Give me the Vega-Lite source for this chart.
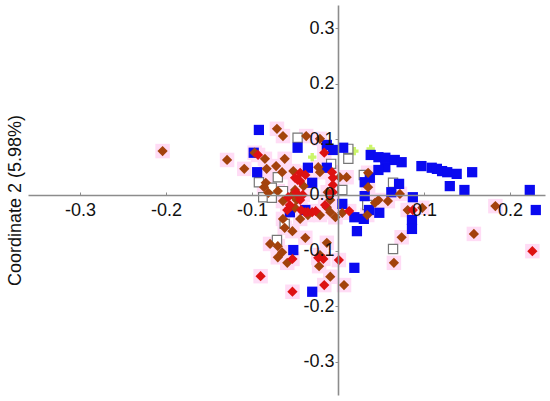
{"$schema":"https://vega.github.io/schema/vega-lite/v6.json","width":517,"height":390,"autosize":"none","padding":{"left":28,"top":5,"right":5,"bottom":6},"background":"white","config":{"view":{"stroke":null},"font":"Liberation Sans"},
"datasets":{"blue":[{"x":-0.092,"y":0.117},{"x":-0.098,"y":0.076},{"x":-0.047,"y":0.085},{"x":-0.094,"y":0.041},{"x":-0.013,"y":0.09},{"x":-0.006,"y":0.081},{"x":0.006,"y":0.085},{"x":-0.035,"y":0.049},{"x":-0.013,"y":0.049},{"x":-0.03,"y":0.022},{"x":0.038,"y":0.072},{"x":0.047,"y":0.068},{"x":0.055,"y":0.067},{"x":0.055,"y":0.05},{"x":0.047,"y":0.045},{"x":0.066,"y":0.063},{"x":0.074,"y":0.059},{"x":0.097,"y":0.052},{"x":0.109,"y":0.049},{"x":0.115,"y":0.047},{"x":0.121,"y":0.043},{"x":0.127,"y":0.041},{"x":0.138,"y":0.038},{"x":0.156,"y":0.041},{"x":0.13,"y":0.016},{"x":0.147,"y":0.009},{"x":0.223,"y":0.009},{"x":0.23,"y":-0.027},{"x":0.037,"y":0.031},{"x":0.031,"y":0.023},{"x":0.071,"y":0.02},{"x":0.062,"y":0.005},{"x":0.031,"y":-0.002},{"x":0.087,"y":-0.004},{"x":0.005,"y":-0.016},{"x":0.036,"y":-0.027},{"x":0.048,"y":-0.032},{"x":0.019,"y":-0.04},{"x":0.03,"y":-0.043},{"x":0.022,"y":-0.065},{"x":0.086,"y":-0.045},{"x":0.086,"y":-0.061},{"x":-0.052,"y":-0.099},{"x":0.019,"y":-0.131},{"x":-0.03,"y":-0.174},{"x":-0.056,"y":-0.031},{"x":-0.038,"y":-0.027}],
"open":[{"x":-0.047,"y":0.103},{"x":0.012,"y":0.083},{"x":0.012,"y":0.065},{"x":-0.008,"y":0.056},{"x":-0.07,"y":0.032},{"x":-0.092,"y":0.023},{"x":-0.087,"y":-0.004},{"x":-0.077,"y":-0.005},{"x":-0.064,"y":0.007},{"x":0.005,"y":0.009},{"x":-0.077,"y":0.013},{"x":-0.062,"y":-0.052},{"x":-0.071,"y":-0.081},{"x":0.064,"y":-0.097},{"x":0.03,"y":0.036},{"x":0.064,"y":0.022},{"x":0.034,"y":-0.018}],
"green":[{"x":-0.03,"y":0.068},{"x":0.019,"y":0.079},{"x":0.038,"y":0.083}],
"red":[{"x":-0.093,"y":0.072},{"x":-0.016,"y":0.076},{"x":-0.047,"y":0.027},{"x":-0.044,"y":0.04},{"x":-0.044,"y":0.025},{"x":-0.007,"y":0.041},{"x":-0.006,"y":0.031},{"x":-0.006,"y":0.018},{"x":-0.006,"y":0.005},{"x":-0.047,"y":0},{"x":-0.041,"y":0},{"x":-0.059,"y":-0.027},{"x":-0.038,"y":-0.031},{"x":-0.035,"y":-0.031},{"x":-0.03,"y":-0.031},{"x":-0.053,"y":-0.115},{"x":-0.017,"y":-0.115},{"x":-0.023,"y":-0.113},{"x":0.001,"y":-0.117},{"x":-0.016,"y":-0.162},{"x":-0.053,"y":-0.174},{"x":-0.09,"y":-0.146},{"x":0.226,"y":-0.101},{"x":0.013,"y":-0.029},{"x":0.087,"y":-0.027},{"x":-0.038,"y":0.036},{"x":-0.05,"y":0.031},{"x":-0.049,"y":0.005},{"x":-0.058,"y":-0.004},{"x":-0.044,"y":-0.009},{"x":-0.026,"y":-0.029},{"x":-0.015,"y":-0.018},{"x":-0.009,"y":0},{"x":-0.056,"y":-0.018},{"x":-0.043,"y":-0.027}],
"brown":[{"x":-0.204,"y":0.079},{"x":-0.129,"y":0.063},{"x":-0.109,"y":0.047},{"x":-0.085,"y":0.065},{"x":-0.083,"y":0.047},{"x":-0.084,"y":0.022},{"x":-0.086,"y":0.014},{"x":-0.081,"y":0.004},{"x":-0.097,"y":0.076},{"x":-0.071,"y":0.119},{"x":-0.064,"y":0.106},{"x":-0.037,"y":0.106},{"x":-0.021,"y":0.101},{"x":-0.072,"y":0.052},{"x":-0.062,"y":0.065},{"x":-0.065,"y":0.041},{"x":-0.052,"y":0.043},{"x":-0.023,"y":0.05},{"x":-0.021,"y":0.041},{"x":0.002,"y":0.032},{"x":0.01,"y":0.032},{"x":0.035,"y":0.04},{"x":0.035,"y":0.014},{"x":-0.07,"y":0.007},{"x":-0.05,"y":0.005},{"x":-0.053,"y":0},{"x":-0.048,"y":-0.009},{"x":-0.05,"y":-0.023},{"x":-0.064,"y":-0.011},{"x":-0.044,"y":-0.043},{"x":-0.035,"y":-0.036},{"x":-0.021,"y":-0.036},{"x":-0.013,"y":-0.022},{"x":-0.009,"y":-0.031},{"x":-0.003,"y":-0.04},{"x":0.005,"y":-0.032},{"x":-0.012,"y":0.005},{"x":-0.009,"y":-0.009},{"x":-0.064,"y":-0.043},{"x":-0.062,"y":-0.059},{"x":-0.053,"y":-0.065},{"x":-0.038,"y":-0.077},{"x":-0.079,"y":-0.088},{"x":-0.07,"y":-0.092},{"x":-0.065,"y":-0.103},{"x":-0.07,"y":-0.112},{"x":-0.059,"y":-0.122},{"x":-0.013,"y":-0.086},{"x":-0.021,"y":-0.108},{"x":-0.022,"y":-0.128},{"x":-0.009,"y":-0.147},{"x":0.007,"y":-0.162},{"x":0.065,"y":-0.122},{"x":0.034,"y":-0.036},{"x":0.047,"y":-0.009},{"x":0.043,"y":-0.014},{"x":0.058,"y":-0.011},{"x":0.072,"y":0.002},{"x":0.081,"y":-0.027},{"x":0.098,"y":-0.023},{"x":0.183,"y":-0.02},{"x":-0.05,"y":0.009},{"x":-0.04,"y":0.016},{"x":0.158,"y":-0.07},{"x":0.074,"y":-0.076}]},
"encoding":{"x":{"field":"x","type":"quantitative","scale":{"domain":[-0.3605,0.2407],"nice":false,"zero":false},"axis":{"title":null,"values":[-0.3,-0.2,-0.1,0.1,0.2],"labelExpr":"replace(format(datum.value,'.1f'),'−','-')","offset":-200,"grid":false,"zindex":1,"domainColor":"#8c8c8c","domainWidth":1.6,"tickColor":"#8c8c8c","tickSize":-3,"tickWidth":1,"labelFontSize":18,"labelColor":"#111","labelPadding":9,"labelFont":"Liberation Sans"}},"y":{"field":"y","type":"quantitative","scale":{"domain":[-0.3597,0.3417],"nice":false,"zero":false},"axis":{"title":"Coordinate 2 (5.98%)","titleFontSize":18,"titleFontWeight":"normal","titleColor":"#111","titleFont":"Liberation Sans","titleX":-323,"titleY":195,"titleAngle":-90,"titleAlign":"center","titleBaseline":"middle","values":[-0.3,-0.2,-0.1,0,0.1,0.2,0.3],"labelExpr":"replace(format(datum.value,'.1f'),'−','-')","offset":-310,"grid":false,"zindex":1,"domainColor":"#8c8c8c","domainWidth":1.6,"tickColor":"#8c8c8c","tickSize":3,"tickWidth":1,"labelFontSize":18,"labelColor":"#111","labelPadding":1,"labelFont":"Liberation Sans"}}},
"layer":[
{"data":{"name":"red"},"mark":{"type":"point","shape":"square","filled":true,"size":210,"color":"#ffdcf5","opacity":1}},
{"data":{"name":"brown"},"mark":{"type":"point","shape":"square","filled":true,"size":210,"color":"#ffdcf5","opacity":1}},
{"data":{"name":"green"},"mark":{"type":"point","shape":"cross","filled":true,"size":70,"color":"#ccf56a","opacity":1}},
{"data":{"name":"open"},"mark":{"type":"point","shape":"square","filled":true,"size":85,"fill":"white","stroke":"#777777","strokeWidth":1.2,"opacity":1}},
{"data":{"name":"blue"},"mark":{"type":"point","shape":"square","filled":true,"size":105,"color":"#0a0af0","opacity":1}},
{"data":{"name":"brown"},"mark":{"type":"point","shape":"diamond","filled":true,"size":105,"color":"#a3420c","opacity":1}},
{"data":{"name":"red"},"mark":{"type":"point","shape":"diamond","filled":true,"size":105,"color":"#dd1212","opacity":1}}
]}
